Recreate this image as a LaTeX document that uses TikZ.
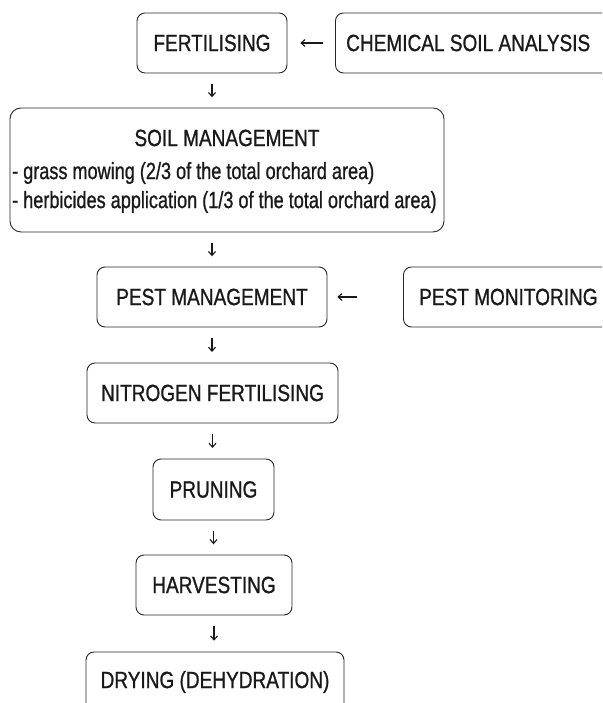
\documentclass[tikz,border=0pt]{standalone}
\usepackage{fontspec}
\setmainfont{Liberation Sans}[FakeStretch=0.81,FakeBold=0.9]
\newfontfamily\linefont{Liberation Sans}[FakeStretch=0.77,FakeBold=0.9]
\usetikzlibrary{calc,arrows.meta}
\begin{document}
\begin{tikzpicture}[x=1pt,y=1pt,
  box/.style={draw=black!85, line width=0.9pt, rounded corners=8pt, inner sep=0pt, minimum height=60pt,
    font=\fontsize{23.5}{27}\selectfont, text=black!90},
  txt/.style={inner sep=0pt, font=\fontsize{23.5}{27}\selectfont, text=black!90},
  ltxt/.style={inner sep=0pt, font=\linefont\fontsize{23.5}{27}\selectfont, text=black!90},
  arr/.style={draw=black!90, line width=1.1pt, -{Straight Barb[length=4pt,width=7pt]}}]
\useasboundingbox (0,0) rectangle (602,703);
\clip (0,0) rectangle (602,703);
% boxes
\node[box, minimum width=150pt] (fert) at (212,660) {FERTILISING};
\node[box, minimum width=275pt, anchor=west] (chem) at (335,660) {};
\node[txt, anchor=west] (chemT) at (346,660) {CHEMICAL SOIL ANALYSIS};
\node[box, minimum width=434pt, minimum height=124pt, rounded corners=11pt] (soil) at (227,533) {};
\node[txt] (soilT) at (227,565) {SOIL MANAGEMENT};
\node[ltxt, anchor=west] (soilA) at (12,530) {- grass mowing (2/3 of the total orchard area)};
\node[ltxt, anchor=west] (soilB) at (12,501) {- herbicides application (1/3 of the total orchard area)};
\node[box, minimum width=230pt] (pest) at (212,406) {PEST MANAGEMENT};
\node[box, minimum width=210pt, anchor=west] (mon) at (403,406) {};
\node[txt, anchor=west] (monT) at (419,406) {PEST MONITORING};
\node[box, minimum width=251pt] (nitro) at (212.5,310) {NITROGEN FERTILISING};
\node[box, minimum width=121pt, minimum height=61pt] (prun) at (213.5,213.5) {PRUNING};
\node[box, minimum width=156pt] (harv) at (214,118) {HARVESTING};
\node[box, minimum width=258pt] (dry) at (215,21) {DRYING (DEHYDRATION)};
% arrows
\draw[arr] ($(fert.east)!0.75!(chem.west)$) -- ($(fert.east)!0.27!(chem.west)$);
\draw[arr] ($(pest.east)!0.39!(mon.west)$) -- ($(pest.east)!0.13!(mon.west)$);
\draw[arr] ($(fert.south)!0.3!(fert.south|-soil.north)$) -- ($(fert.south)!0.7!(fert.south|-soil.north)$);
\draw[arr] ($(pest.north|-soil.south)!0.3!(pest.north)$) -- ($(pest.north|-soil.south)!0.7!(pest.north)$);
\draw[arr] ($(pest.south)!0.3!(pest.south|-nitro.north)$) -- ($(pest.south)!0.7!(pest.south|-nitro.north)$);
\draw[arr] ($(nitro.south)!0.3!(nitro.south|-prun.north)$) -- ($(nitro.south)!0.7!(nitro.south|-prun.north)$);
\draw[arr] ($(prun.south)!0.3!(prun.south|-harv.north)$) -- ($(prun.south)!0.7!(prun.south|-harv.north)$);
\draw[arr] ($(harv.south)!0.3!(harv.south|-dry.north)$) -- ($(harv.south)!0.7!(harv.south|-dry.north)$);
\end{tikzpicture}
\end{document}
